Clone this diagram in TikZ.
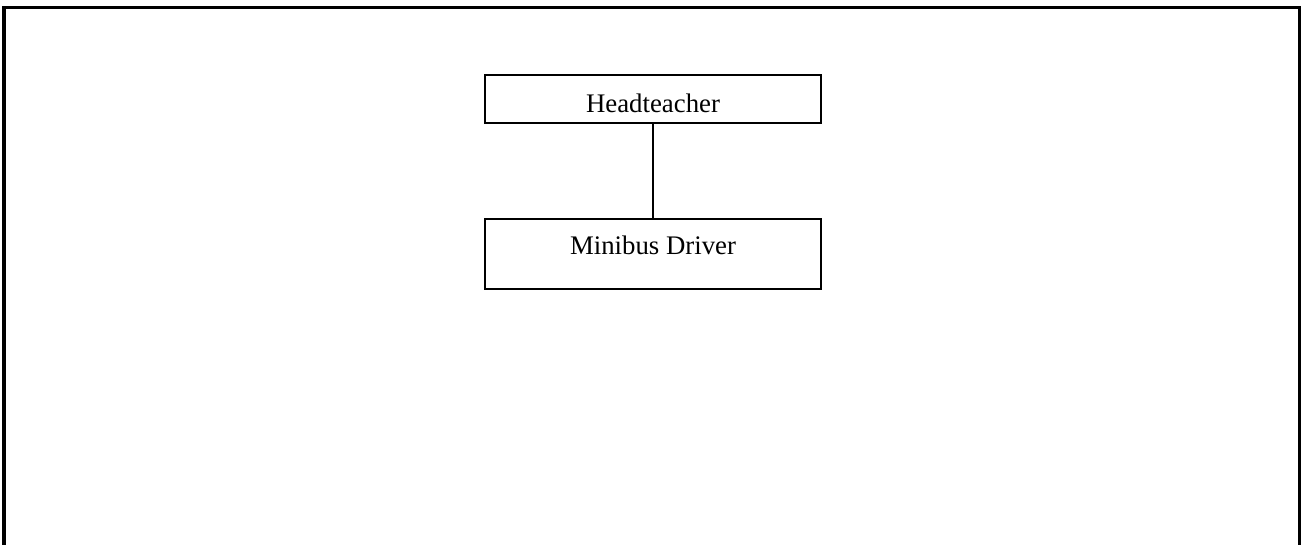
\documentclass[tikz,border=0pt]{standalone}
\usepackage{fontspec}
\setmainfont{Liberation Serif}
\usetikzlibrary{positioning}

\tikzset{
  post/.style={draw, line width=1pt, inner xsep=0pt, inner ysep=0pt,
    minimum width=168pt, anchor=north, font=\fontsize{13.4}{16}\selectfont},
  frame/.style={line width=1.75pt},
  link/.style={line width=1pt}
}

\begin{document}
\begin{tikzpicture}[x=0.5pt, y=-0.5pt]
\useasboundingbox (0,0) rectangle (1302,545);
% outer frame, open at the bottom
\coordinate (FL) at (4,545);
\coordinate (FR) at (1299.5,545);
\draw[frame] (FL) -- (4,7.5) -- (1299.5,7.5) -- (FR);
% the two posts
\node[post, text height=18.7pt, text depth=5.5pt]   (head)   at (653,73.8)  {Headteacher};
\node[post, text height=17.8pt, text depth=17.35pt] (driver) at (653,218.2) {Minibus Driver};
\draw[link] (head) -- (driver);
\end{tikzpicture}
\end{document}
